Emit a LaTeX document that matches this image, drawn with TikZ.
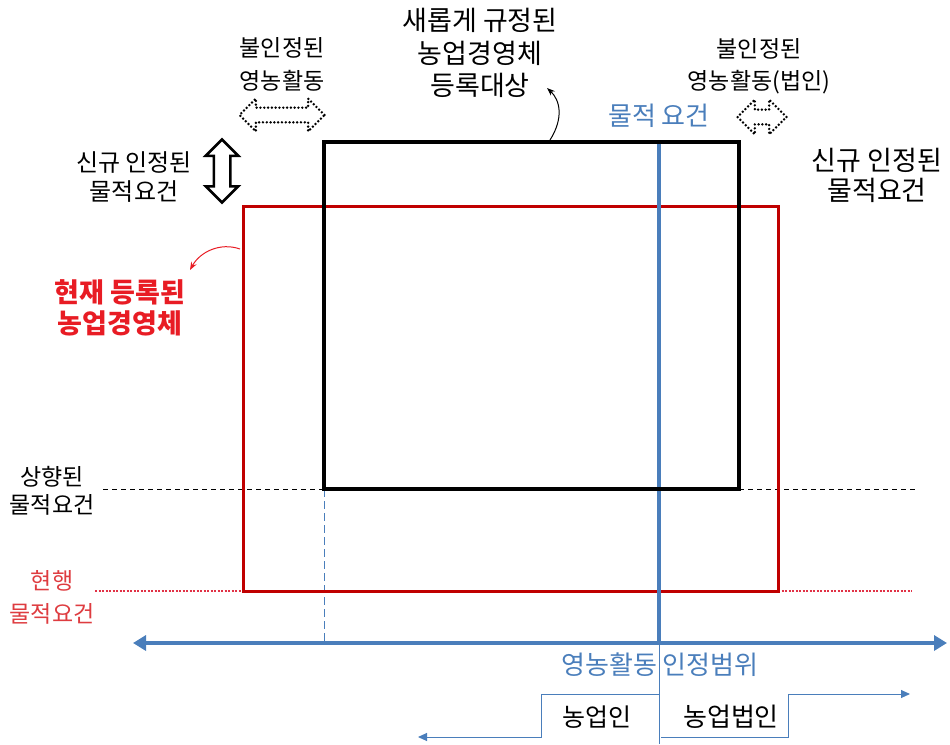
\documentclass[tikz,border=0pt]{standalone}
\usepackage{fontspec}
\setmainfont{Noto Sans CJK KR}
\usetikzlibrary{arrows.meta,shapes.arrows}
\definecolor{axblue}{RGB}{74,126,187}
\definecolor{boxred}{RGB}{192,0,0}
\definecolor{txtred}{RGB}{232,28,36}
\definecolor{litred}{RGB}{222,60,64}
\definecolor{dotred}{RGB}{225,50,70}
\tikzset{
  lbl/.style={align=center,inner sep=0pt},
  fs/.style 2 args={font=\fontsize{#1}{#2}\selectfont},
  hollowdot/.style={draw,double arrow,double arrow head extend=#1,inner xsep=0pt,inner ysep=6pt,
     dash pattern=on 0pt off 3.8pt,line cap=round,line width=2.7pt},
  hollowsolid/.style={draw,double arrow,double arrow head extend=8pt,inner xsep=0pt,inner ysep=7pt,line width=2.5pt},
  thinblue/.style={axblue,line width=1pt},
  blackdash/.style={black,line width=1pt,dash pattern=on 5pt off 4pt},
  reddot/.style={dotred,line width=1.2pt,dash pattern=on 2pt off 1.5pt},
  bluedash/.style={axblue,line width=1pt,dash pattern=on 8pt off 4pt},
}
\begin{document}
\begin{tikzpicture}[x=1pt,y=-1pt]
\useasboundingbox (0,0) rectangle (950,744);
% coordinates
\coordinate (RTL) at (243,206); \coordinate (RBR) at (778,591);
\coordinate (BTL) at (324,142); \coordinate (BBR) at (739,489);
\coordinate (BVtop) at (659,142); \coordinate (BVaxis) at (659,643); \coordinate (BVbot) at (659,744);
\coordinate (AXL) at (133,643); \coordinate (AXR) at (947,643);
\coordinate (DL) at (103,489); \coordinate (DR) at (918,489);
\coordinate (RDL) at (95,591); \coordinate (RDR) at (912,591);
% dashed / dotted guide lines
\draw[blackdash] (DL) -- (BTL|-BBR);
\draw[blackdash] (BBR) -- (DR);
\draw[reddot] (RDL) -- (RTL|-RBR);
\draw[reddot] (RBR) -- (RDR);
\draw[bluedash] (BTL|-BBR) -- (BTL|-AXL);
% red rectangle
\draw[boxred,line width=3pt] (RTL) rectangle (RBR);
% blue vertical
\draw[axblue,line width=4pt] (BVtop) -- (BVaxis);
\draw[thinblue] (BVaxis) -- (BVbot);
% black rectangle
\draw[black,line width=4pt] (BTL) rectangle (BBR);
% axis
\draw[axblue,line width=4pt,{Triangle[length=13pt,width=15pt]}-{Triangle[length=13pt,width=15pt]}] (AXL) -- (AXR);
% step lines
\coordinate (SL1) at (659,694); \coordinate (SL2) at (541,694); \coordinate (SL3) at (541,737); \coordinate (SL4) at (418,737);
\coordinate (SR1) at (661,737); \coordinate (SR2) at (788,737); \coordinate (SR3) at (788,694); \coordinate (SR4) at (910,694);
\draw[thinblue,-{Triangle[length=9pt,width=8pt]}] (SL1) -- (SL2) -- (SL3) -- (SL4);
\draw[thinblue,-{Triangle[length=9pt,width=8pt]}] (SR1) -- (SR2) -- (SR3) -- (SR4);
% labels
\node[lbl,fs={27}{32.5}] (newlbl) at (480,53) {새롭게 규정된\\농업경영체\\등록대상};
\node[lbl,fs={23}{33}] (unrecL) at (282,64) {불인정된\\영농활동};
\node[lbl,fs={23}{32}] (unrecR) at (759,66) {불인정된\\영농활동(법인)};
\node[lbl,fs={26}{30},text=axblue] (physreq) at (659,116) {물적 요건};
\node[lbl,fs={24}{29}] (newL) at (134,177) {신규 인정된\\물적요건};
\node[lbl,fs={27}{30}] (newR) at (877,175) {신규 인정된\\물적요건};
\node[lbl,font=\fontsize{27}{31}\selectfont\bfseries,text=txtred] (reg) at (120,308) {현재 등록된\\농업경영체};
\node[lbl,fs={23}{28}] (up) at (52,491) {상향된\\물적요건};
\node[lbl,fs={23}{33},text=litred] (cur) at (52,597) {현행\\물적요건};
\node[lbl,fs={26}{30},text=axblue] (axlbl) at (660,665) {영농활동 인정범위};
\node[lbl,fs={25}{30}] (farmer) at (597,717) {농업인};
\node[lbl,fs={26}{30}] (corp) at (731,717) {농업법인};
% hollow arrows
\node[hollowdot=9pt,minimum height=85pt] (dotL) at (282,115) {};
\node[hollowdot=10pt,minimum height=49pt] (dotR) at (762,117) {};
\node[hollowsolid,minimum height=63pt,rotate=90] (vert) at (222,171) {};
% curved arrows
\coordinate (cbStart) at (550,140);
\draw[black,line width=1pt,-{Stealth[length=8pt,width=6pt]}] (cbStart) .. controls (564,118) and (560,100) .. (547,88);
\coordinate (crStart) at (240,249);
\draw[txtred,line width=1pt,-{Stealth[length=8pt,width=6pt]}] (crStart) .. controls (220,242) and (200,252) .. (190,270);
\end{tikzpicture}
\end{document}
